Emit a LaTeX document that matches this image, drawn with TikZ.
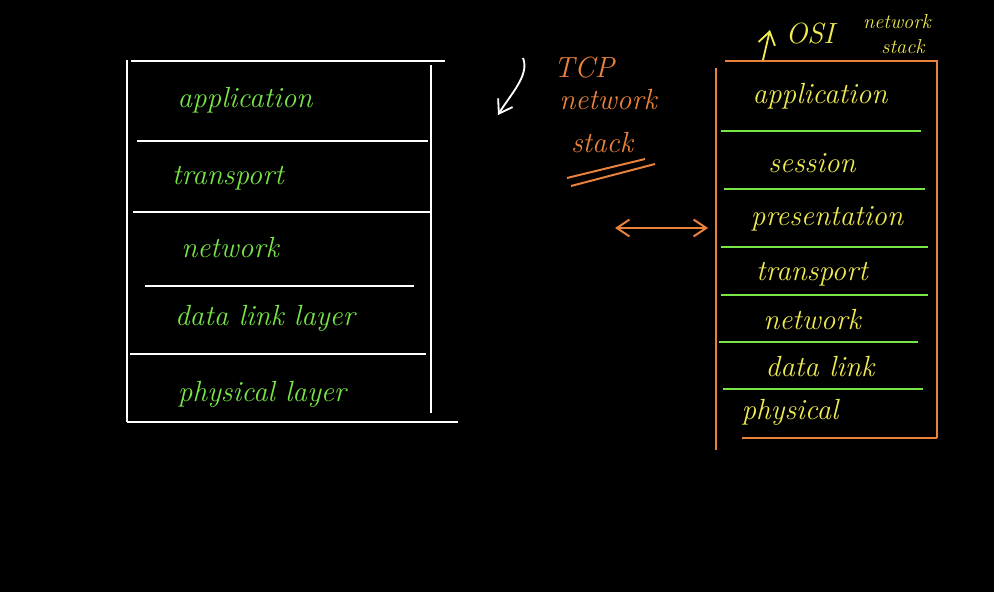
\documentclass[tikz,border=0pt]{standalone}
\usepackage{tikz}
\usetikzlibrary{positioning,arrows.meta,calc}

\definecolor{chalkgreen}{RGB}{120,230,70}
\definecolor{chalkorange}{RGB}{235,130,60}
\definecolor{chalkyellow}{RGB}{240,235,80}

\begin{document}
\begin{tikzpicture}[
    x=0.025cm, y=-0.025cm,
    wline/.style={draw=white, line width=1.4pt},
    oline/.style={draw=chalkorange, line width=1.4pt},
    gline/.style={draw=chalkgreen, line width=1.4pt},
    tcplayer/.style={text=chalkgreen, font=\huge\itshape},
    osilayer/.style={text=chalkyellow, font=\huge\itshape},
    tcpnote/.style={text=chalkorange, font=\huge\itshape, inner sep=1pt},
    osinote/.style={text=chalkyellow, font=\Large\itshape, inner sep=1pt},
    >={Straight Barb[length=9pt,width=12pt]}
]
% fond noir
\fill[black] (0,0) rectangle (994,592);
\useasboundingbox (0,0) rectangle (994,592);

% pile TCP (gauche)
\draw[wline] (127,60) -- (127,422);
\draw[wline] (131,61) -- (445,61);
\draw[wline] (431,65) -- (431,413);
\draw[wline] (127,422) -- (458,422);
\draw[wline] (137,141) -- (428,141);
\draw[wline] (133,212) -- (432,212);
\draw[wline] (145,286) -- (414,286);
\draw[wline] (130,354) -- (426,354);

\node[tcplayer] (tapp) at (245,100) {application};
\node[tcplayer] (ttra) at (228,178) {transport};
\node[tcplayer] (tnet) at (230,248) {network};
\node[tcplayer] (tdll) at (265,318) {data link layer};
\node[tcplayer] (tphy) at (262,394) {physical layer};

% pile OSI (droite)
\draw[oline] (716,68) -- (716,450);
\draw[oline] (725,61) -- (938,61);
\draw[oline] (937,61) -- (937,438);
\draw[oline] (742,438) -- (937,438);
\draw[gline] (721,131) -- (921,131);
\draw[gline] (724,189) -- (925,189);
\draw[gline] (721,247) -- (928,247);
\draw[gline] (721,295) -- (928,295);
\draw[gline] (719,342) -- (918,342);
\draw[gline] (723,389) -- (923,389);

\node[osilayer] (oapp) at (820,96) {application};
\node[osilayer] (oses) at (812,163) {session};
\node[osilayer] (opre) at (827,219) {presentation};
\node[osilayer] (otra) at (812,274) {transport};
\node[osilayer] (onet) at (812,320) {network};
\node[osilayer] (odll) at (820,367) {data link};
\node[osilayer] (ophy) at (790,412) {physical};

% titres
\node[tcpnote] (tcp) at (584,68) {TCP};
\node[tcpnote] (tcpnet) at (608,100) {network};
\node[tcpnote] (tcpstack) at (602,143) {stack};
\coordinate (ul1a) at (567,178);
\coordinate (ul1b) at (645,159);
\coordinate (ul2a) at (571,186);
\coordinate (ul2b) at (655,164);
\draw[oline] (ul1a) -- (ul1b);
\draw[oline] (ul2a) -- (ul2b);

\node[osinote, font=\huge\itshape] (osi) at (810,34) {OSI};
\node[osinote] (osinet) at (897,22) {network};
\node[osinote] (osistack) at (903,47) {stack};

% fleches
\coordinate (osifoot) at (763,60);
\coordinate (osihead) at (770,30);
\draw[->, chalkyellow, line width=1.3pt] (osifoot) -- (osihead);
\coordinate (wtop) at (523,58);
\coordinate (wtip) at (498,115);
\draw[->, white, line width=1.3pt] (wtop) .. controls (530,75) and (510,95) .. (wtip);
\coordinate (dleft) at (615,228);
\coordinate (dright) at (708,228);
\draw[<->, chalkorange, line width=1.4pt] (dleft) -- (dright);
\end{tikzpicture}
\end{document}
